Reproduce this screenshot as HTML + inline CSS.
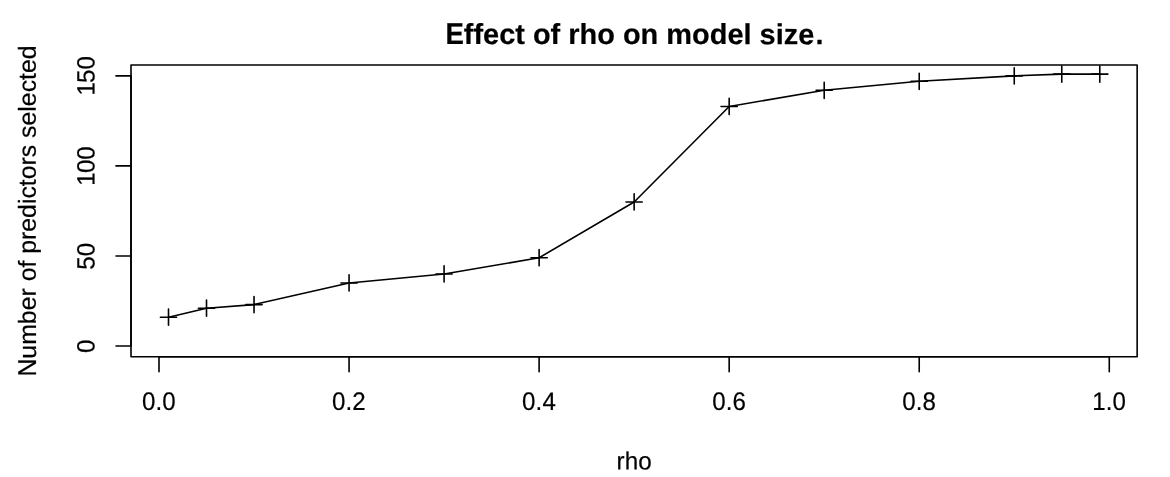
<!DOCTYPE html>
<html lang="en">
<head>
<meta charset="utf-8">
<title>Effect of rho on model size.</title>
<style>
html,body{margin:0;padding:0;background:#fff;}
body{width:1170px;height:477px;overflow:hidden;font-family:"Liberation Sans",Arial,Helvetica,sans-serif;}
svg{display:block;}
.t text{font-variant-ligatures:none;font-feature-settings:"liga" 0,"clig" 0;}
</style>
</head>
<body>
<svg width="1170" height="477" viewBox="0 0 1170 477">
<rect x="0" y="0" width="1170" height="477" fill="#fff"/>
<g fill="none" stroke="#000" stroke-width="1.6" stroke-linecap="round" stroke-linejoin="round">
<polyline points="168.5,317.19 206.51,308.18 254.03,304.58 349.06,282.97 444.08,273.97 539.11,257.76 634.14,201.94 729.17,106.49 824.2,90.29 919.22,81.28 1014.25,75.88 1061.77,74.08 1099.78,74.08"/>
<path d="M160.4 317.19H176.6M168.5 309.09V325.29M198.41 308.18H214.61M206.51 300.08V316.28M245.93 304.58H262.13M254.03 296.48V312.68M340.96 282.97H357.16M349.06 274.87V291.07M435.98 273.97H452.18M444.08 265.87V282.07M531.01 257.76H547.21M539.11 249.66V265.86M626.04 201.94H642.24M634.14 193.84V210.04M721.07 106.49H737.27M729.17 98.39V114.59M816.1 90.29H832.3M824.2 82.19V98.39M911.12 81.28H927.32M919.22 73.18V89.38M1006.15 75.88H1022.35M1014.25 67.78V83.98M1053.67 74.08H1069.87M1061.77 65.98V82.18M1091.68 74.08H1107.88M1099.78 65.98V82.18"/>
<rect x="131" y="65" width="1006.15" height="291.8"/>
<path d="M159 356.8H1109.28M159 356.8V371.8M349.06 356.8V371.8M539.11 356.8V371.8M729.17 356.8V371.8M919.22 356.8V371.8M1109.28 356.8V371.8M131 346V75.88M131 346H116M131 255.96H116M131 165.92H116M131 75.88H116"/>
</g>
<g class="t" stroke="#000" stroke-width="0.2" stroke-linejoin="round" text-rendering="geometricPrecision" font-family="'Liberation Sans', Arial, Helvetica, sans-serif" fill="#000" text-anchor="middle">
<g font-size="25">
<text transform="matrix(0.965 0.0006 0 1.02 158.9 410.1)" letter-spacing="0.1">0.0</text>
<text transform="matrix(0.965 0.0006 0 1.02 348.96 410.1)" letter-spacing="0.1">0.2</text>
<text transform="matrix(0.965 0.0006 0 1.02 539.01 410.1)" letter-spacing="0.1">0.4</text>
<text transform="matrix(0.965 0.0006 0 1.02 729.07 410.1)" letter-spacing="0.1">0.6</text>
<text transform="matrix(0.965 0.0006 0 1.02 919.12 410.1)" letter-spacing="0.1">0.8</text>
<text transform="matrix(0.965 0.0006 0 1.02 1109.18 410.1)" letter-spacing="0.1">1.0</text>
<text transform="translate(94.45 346.25) rotate(-90.035) scale(0.965 1.0)">0</text>
<text transform="translate(94.45 256.21) rotate(-90.035) scale(0.965 1.0)">50</text>
<text transform="translate(94.45 166.77) rotate(-90.035) scale(0.965 1.0)" dx="0.85 -0.85">100</text>
<text transform="translate(94.45 76.73) rotate(-90.035) scale(0.965 1.0)" dx="0.85 -0.85">150</text>
<text transform="matrix(0.97 0.0006 0 1 634.1 469.6)">rho</text>
<text font-size="24.6" transform="translate(35.8 211) rotate(-90.035) scale(1.0093 1)"><tspan font-size="25.8" textLength="17.76" lengthAdjust="spacingAndGlyphs">N</tspan>umber of predictors selected</text>
</g>
<text transform="matrix(1 0.0006 0 1 445.4 43.95)" font-size="28.95" font-weight="bold" text-anchor="start"><tspan font-size="30.3" textLength="18.4" lengthAdjust="spacingAndGlyphs">E</tspan>ffect of rho on model size<tspan dx="1.1">.</tspan></text>
</g>
</svg>
</body>
</html>
